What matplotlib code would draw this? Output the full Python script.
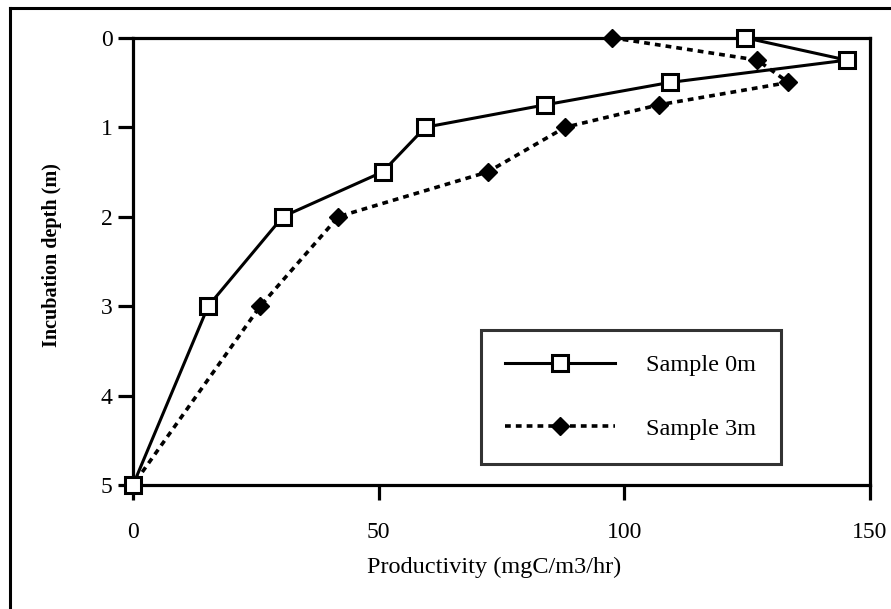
import matplotlib
matplotlib.use("Agg")
import matplotlib.pyplot as plt
from matplotlib.lines import Line2D

# depth profile of productivity
depth = [0, 0.25, 0.5, 0.75, 1, 1.5, 2, 3, 5]
prod_0m = [124.6, 145.3, 109.2, 83.9, 59.5, 50.8, 30.5, 15.3, 0]
prod_3m = [97.5, 127.1, 133.4, 107.0, 88.0, 72.2, 41.8, 25.9, 0]
labels = ["Sample 0m", "Sample 3m"]
xticks = [0, 50, 100, 150]
yticks = [0, 1, 2, 3, 4, 5]

plt.rcParams["font.family"] = ["Liberation Serif", "DejaVu Serif"]

fig = plt.figure(figsize=(8.91, 6.09), dpi=100)
ax = fig.add_axes([0.1493, 0.2036, 0.8271, 0.7344])

ax.plot(prod_0m, depth, color="black", lw=2.2, marker="s", ms=12,
        mfc="white", mec="black", mew=2.2, clip_on=False, zorder=4,
        label=labels[0])
ax.plot(prod_3m, depth, color="black", lw=2.6, ls=(0, (1.6, 1.4)),
        marker="D", ms=9, mfc="black", mec="black", clip_on=False,
        zorder=3, label=labels[1])

ax.set_xlim(0, 150)
ax.set_ylim(5, 0)
ax.set_xticks(xticks)
ax.set_yticks(yticks)
for s in ax.spines.values():
    s.set_linewidth(2.3)
ax.tick_params(axis="both", direction="out", length=10.8, width=2.3,
               labelsize=17)
ax.tick_params(axis="x", pad=16)
ax.tick_params(axis="y", pad=4)

ax.set_xlabel("Productivity (mgC/m3/hr)", fontsize=17.5)
ax.xaxis.set_label_coords(0.49, -0.16)
ax.set_ylabel("Incubation depth (m)", fontsize=14.5, fontweight="bold")
ax.yaxis.set_label_coords(-0.097, 0.515)

leg = ax.legend(loc="upper left", bbox_to_anchor=(0.472, 0.3465),
                fontsize=17.5, frameon=True, fancybox=False,
                handlelength=4.5, handletextpad=1.3, borderpad=1.0,
                labelspacing=1.7, borderaxespad=0)
leg.get_frame().set_edgecolor("black")
leg.get_frame().set_linewidth(2.2)

# page border on left and top
fig.add_artist(Line2D([10 / 891, 10 / 891], [0, 1 - 8 / 609],
                      transform=fig.transFigure, color="black", lw=2.2))
fig.add_artist(Line2D([10 / 891, 1], [1 - 8 / 609, 1 - 8 / 609],
                      transform=fig.transFigure, color="black", lw=2.2))

fig.savefig("out.png", dpi=100)
